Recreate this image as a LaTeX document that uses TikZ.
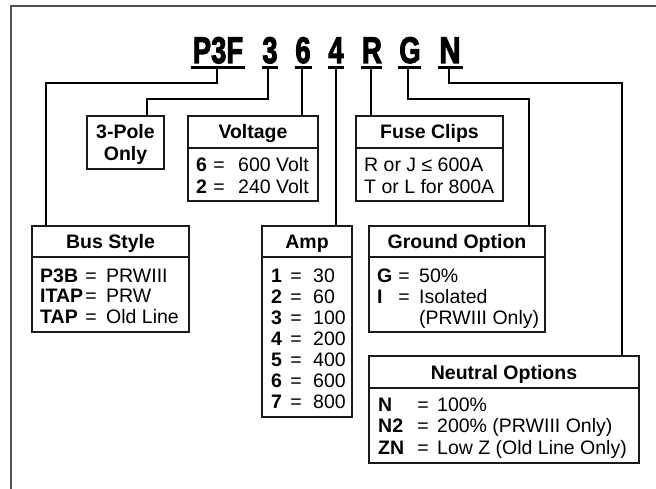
\documentclass[tikz,border=0pt]{standalone}
\usepackage{fontspec}
\usepackage{graphicx}
\setmainfont{Liberation Sans}
\usetikzlibrary{calc}
\definecolor{framegray}{HTML}{505050}
\definecolor{boxc}{HTML}{1A1A1A}
\newcommand{\tsz}{\fontsize{19.5}{21}\selectfont}
\newcommand{\heavytxt}[2]{\special{pdf:literal q 2 Tr 1.2 w}\scalebox{#1}[1]{#2}\special{pdf:literal 0 Tr Q}}
\tikzset{
  frameline/.style={draw=framegray, line width=2pt},
  box/.style={draw=boxc, line width=1.5pt, rectangle, inner sep=0pt, outer sep=0pt, anchor=north west},
  divline/.style={draw=boxc, line width=1.5pt},
  conn/.style={draw=black, line width=1.3pt},
  uline/.style={draw=black, line width=3pt},
  ttl/.style={font=\bfseries\fontsize{37}{40}\selectfont, anchor=base, inner sep=0pt},
  hdr/.style={font=\bfseries\tsz, anchor=base, inner sep=0pt},
  key/.style={font=\bfseries\tsz, anchor=base west, inner sep=0pt},
  txt/.style={font=\tsz, anchor=base west, inner sep=0pt},
  eqs/.style={font=\tsz, anchor=base, inner sep=0pt},
}
\begin{document}
\begin{tikzpicture}[x=1pt, y=-1pt]
\useasboundingbox (0,0) rectangle (656,489);
% frame
\draw[frameline] (11,489) -- (11,6) -- (656,6);

% title letters
\node[ttl] (tP) at (218,63) {\heavytxt{0.74}{P3F}};
\node[ttl] (t3) at (270,63) {\heavytxt{0.74}{3}};
\node[ttl] (t6) at (303,63) {\heavytxt{0.74}{6}};
\node[ttl] (t4) at (336,63) {\heavytxt{0.74}{4}};
\node[ttl] (tR) at (372,63) {\heavytxt{0.74}{R}};
\node[ttl] (tG) at (410,63) {\heavytxt{0.74}{G}};
\node[ttl] (tN) at (450,63) {\heavytxt{0.80}{N}};

% underlines
\draw[uline] (191,68) -- (245,68);
\draw[uline] (262,68) -- (278,68);
\draw[uline] (295,68) -- (312,68);
\draw[uline] (328,68) -- (344,68);
\draw[uline] (361,68) -- (382,68);
\draw[uline] (398,68) -- (421,68);
\draw[uline] (438,68) -- (463,68);

\coordinate (cP) at (217,69);
\coordinate (c3) at (268,69);
\coordinate (c6) at (302,69);
\coordinate (c4) at (336,69);
\coordinate (cR) at (371,69);
\coordinate (cG) at (408,69);
\coordinate (cN) at (449,69);

% boxes
\node[box, minimum width=77pt, minimum height=53pt] (pole) at (87,116) {};
\node[box, minimum width=130pt, minimum height=85pt] (volt) at (188,116) {};
\node[box, minimum width=147pt, minimum height=85pt] (fuse) at (356,116) {};
\node[box, minimum width=157pt, minimum height=106pt] (bus) at (32,226) {};
\node[box, minimum width=90pt, minimum height=191pt] (amp) at (262,226) {};
\node[box, minimum width=176pt, minimum height=106pt] (gnd) at (369,226) {};
\node[box, minimum width=270pt, minimum height=107pt] (neu) at (369,356) {};

% dividers
\draw[divline] ($(volt.north west)+(0,32)$) -- ($(volt.north east)+(0,32)$);
\draw[divline] ($(fuse.north west)+(0,32)$) -- ($(fuse.north east)+(0,32)$);
\draw[divline] ($(bus.north west)+(0,31)$) -- ($(bus.north east)+(0,31)$);
\draw[divline] ($(amp.north west)+(0,31)$) -- ($(amp.north east)+(0,31)$);
\draw[divline] ($(gnd.north west)+(0,31)$) -- ($(gnd.north east)+(0,31)$);
\draw[divline] ($(neu.north west)+(0,32)$) -- ($(neu.north east)+(0,32)$);

% connectors
\draw[conn] (cP) -- (217,83) -| ($(bus.north west)+(14,0)$);
\draw[conn] (c3) -- (268,99) -| ($(pole.north west)+(60,0)$);
\draw[conn] (c6) -- (c6 |- volt.north);
\draw[conn] (c4) -- (c4 |- amp.north);
\draw[conn] (cR) -- (cR |- fuse.north);
\draw[conn] (cG) -- (408,99) -| ($(gnd.north west)+(160,0)$);
\draw[conn] (cN) -- (449,83) -| ($(neu.north west)+(253,0)$);

% 3-Pole
\node[hdr] (poleA) at (125.5,139) {3-Pole};
\node[hdr] (poleB) at (125.5,161) {Only};

% Voltage
\node[hdr] (voltH) at (253,139) {Voltage};
\node[key] (v1k) at (196,172) {6};
\node[eqs] (v1e) at (219,172) {=};
\node[txt] (v1v) at (238,172) {600 Volt};
\node[key] (v2k) at (196,193.5) {2};
\node[eqs] (v2e) at (219,193.5) {=};
\node[txt] (v2v) at (238,193.5) {240 Volt};

% Fuse Clips
\node[hdr] (fuseH) at (429.5,139) {Fuse Clips};
\node[txt] (f1) at (364,172) {R or J ≤ 600A};
\node[txt] (f2) at (364,193.5) {T or L for 800A};

% Bus Style
\node[hdr] (busH) at (110.5,248) {Bus Style};
\node[key] (b1k) at (40,282) {P3B};
\node[eqs] (b1e) at (91,282) {=};
\node[txt] (b1v) at (106,282) {PRWIII};
\node[key] (b2k) at (40,302.5) {ITAP};
\node[eqs] (b2e) at (91,302.5) {=};
\node[txt] (b2v) at (106,302.5) {PRW};
\node[key] (b3k) at (40,323) {TAP};
\node[eqs] (b3e) at (91,323) {=};
\node[txt] (b3v) at (106,323) {Old Line};

% Amp
\node[hdr] (ampH) at (307,248) {Amp};
\foreach \k/\v [count=\i from 0] in {1/30,2/60,3/100,4/200,5/400,6/600,7/800} {
  \node[key] (a\k k) at (271,282+21*\i) {\k};
  \node[eqs] (a\k e) at (296,282+21*\i) {=};
  \node[txt] (a\k v) at (313,282+21*\i) {\v};
}

% Ground Option
\node[hdr] (gndH) at (457,248) {Ground Option};
\node[key] (g1k) at (377,282) {G};
\node[eqs] (g1e) at (404,282) {=};
\node[txt] (g1v) at (419,282) {50\%};
\node[key] (g2k) at (377,303) {I};
\node[eqs] (g2e) at (404,303) {=};
\node[txt] (g2v) at (419,303) {Isolated};
\node[txt] (g3v) at (419,324) {(PRWIII Only)};

% Neutral Options
\node[hdr] (neuH) at (504,379) {Neutral Options};
\node[key] (n1k) at (378,411) {N};
\node[eqs] (n1e) at (423,411) {=};
\node[txt] (n1v) at (437,411) {100\%};
\node[key] (n2k) at (378,432.5) {N2};
\node[eqs] (n2e) at (423,432.5) {=};
\node[txt] (n2v) at (437,432.5) {200\% (PRWIII Only)};
\node[key] (n3k) at (378,454) {ZN};
\node[eqs] (n3e) at (423,454) {=};
\node[txt] (n3v) at (437,454) {Low Z (Old Line Only)};
\end{tikzpicture}
\end{document}
